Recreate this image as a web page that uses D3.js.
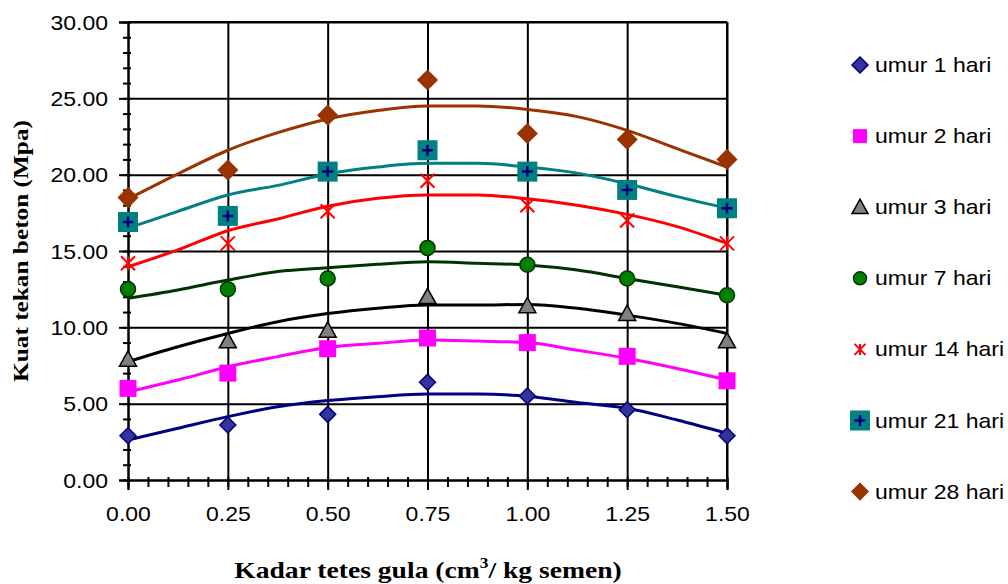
<!DOCTYPE html>
<html>
<head>
<meta charset="utf-8">
<script src="https://cdn.jsdelivr.net/npm/d3@7"></script>
<style>
  body { margin: 0; background: #fff; }
  svg { display: block; }
</style>
</head>
<body>
<script>
// chart size
var width = 1008;
var height = 584;

// data
var kadar = [0, 0.25, 0.5, 0.75, 1.0, 1.25, 1.5];
var umur1 = [2.9, 3.6, 4.3, 6.4, 5.5, 4.6, 2.9];
var umur2 = [6.0, 7.0, 8.6, 9.3, 9.0, 8.1, 6.5];
var umur3 = [7.9, 9.1, 9.8, 12.0, 11.4, 10.9, 9.1];
var umur7 = [12.5, 12.5, 13.2, 15.2, 14.1, 13.2, 12.1];
var umur14 = [14.2, 15.5, 17.6, 19.6, 18.0, 17.0, 15.5];
var umur21 = [16.9, 17.3, 20.2, 21.6, 20.2, 19.0, 17.8];
var umur28 = [18.5, 20.3, 23.9, 26.2, 22.7, 22.3, 21.0];

// trend lines, read at every 0.125
var trendX = [0, 0.125, 0.25, 0.375, 0.5, 0.625, 0.75, 0.875, 1.0, 1.125, 1.25, 1.375, 1.5];
var trend1 = [2.62, 3.39, 4.15, 4.8, 5.2, 5.46, 5.63, 5.63, 5.48, 5.07, 4.7, 3.93, 3.06];
var trend2 = [5.78, 6.55, 7.42, 8.08, 8.68, 8.95, 9.17, 9.1, 9.0, 8.5, 7.97, 7.3, 6.55];
var trend3 = [7.75, 8.73, 9.6, 10.37, 10.9, 11.25, 11.46, 11.46, 11.5, 11.25, 10.8, 10.26, 9.6];
var trend7 = [11.9, 12.45, 13.1, 13.65, 13.9, 14.13, 14.3, 14.2, 14.08, 13.75, 13.2, 12.66, 12.1];
var trend14 = [13.97, 15.07, 16.33, 17.1, 17.93, 18.45, 18.67, 18.67, 18.42, 18.0, 17.4, 16.6, 15.5];
var trend21 = [16.5, 17.6, 18.67, 19.3, 20.05, 20.5, 20.74, 20.74, 20.5, 20.1, 19.4, 18.56, 17.8];
var trend28 = [18.4, 20.05, 21.6, 22.75, 23.65, 24.2, 24.5, 24.5, 24.27, 23.8, 22.9, 21.7, 20.5];

var seriesNames = ['umur 1 hari', 'umur 2 hari', 'umur 3 hari', 'umur 7 hari', 'umur 14 hari', 'umur 21 hari', 'umur 28 hari'];
var yTicks = [0, 5, 10, 15, 20, 25, 30];
var xTicks = [0, 0.25, 0.5, 0.75, 1.0, 1.25, 1.5];

var series = [
  {name: seriesNames[0], values: umur1, trend: trend1, marker: 'diamond', fill: '#333399', stroke: '#000080', line: '#000080', r: 8},
  {name: seriesNames[1], values: umur2, trend: trend2, marker: 'square', fill: '#ff00ff', stroke: 'none', line: '#ff00ff', r: 8.5},
  {name: seriesNames[2], values: umur3, trend: trend3, marker: 'triangle', fill: '#808080', stroke: '#000', line: '#000', r: 8.5},
  {name: seriesNames[3], values: umur7, trend: trend7, marker: 'circle', fill: '#008000', stroke: '#003300', line: '#003300', r: 7.5},
  {name: seriesNames[4], values: umur14, trend: trend14, marker: 'star', fill: 'none', stroke: '#ff0000', line: '#ff0000', r: 7},
  {name: seriesNames[5], values: umur21, trend: trend21, marker: 'plussq', fill: '#008080', stroke: '#000080', line: '#008080', r: 10},
  {name: seriesNames[6], values: umur28, trend: trend28, marker: 'diamond', fill: '#993300', stroke: '#993300', line: '#993300', r: 9.5}
];

var margin = {left: 128, top: 22};
var plotW = 599;
var plotH = 458;
var stretch = 1.15; // the fonts in the picture are drawn a little wide

var svg = d3.select('body').append('svg')
  .attr('width', width)
  .attr('height', height)
  .style('background', '#fff');

var x = d3.scaleLinear().domain([0, 1.5]).range([0, plotW]);
var y = d3.scaleLinear().domain([0, 30]).range([plotH, 0]);

var g = svg.append('g').attr('transform', 'translate(' + margin.left + ',' + margin.top + ')');

// gridlines
g.append('g')
  .attr('class', 'grid')
  .call(d3.axisLeft(y).tickValues(yTicks).tickSize(-plotW).tickFormat(''))
  .call(function(s){ s.select('.domain').remove(); });
g.append('g')
  .attr('class', 'grid')
  .attr('transform', 'translate(0,' + plotH + ')')
  .call(d3.axisBottom(x).tickValues(xTicks).tickSize(plotH).tickFormat(''))
  .call(function(s){ s.selectAll('line').attr('y2', -plotH); s.select('.domain').remove(); });
g.selectAll('.grid line').attr('stroke', '#000').attr('stroke-width', 2);

// minor ticks, crossing the axes
g.append('g')
  .attr('class', 'minor')
  .attr('transform', 'translate(3,0)')
  .call(d3.axisLeft(y).tickValues(d3.range(0, 31, 1)).tickSize(8).tickFormat(''));
g.append('g')
  .attr('class', 'minor')
  .attr('transform', 'translate(0,' + (plotH - 3) + ')')
  .call(d3.axisBottom(x).tickValues(d3.range(0, 31, 1).map(function(d){ return d * 0.05; })).tickSize(10).tickFormat(''));
g.selectAll('.minor .domain').remove();
g.selectAll('.minor line').attr('stroke', '#000').attr('stroke-width', 2);

// main axes with labels
var yAxis = g.append('g')
  .call(d3.axisLeft(y).tickValues(yTicks).tickSize(9).tickPadding(11).tickFormat(d3.format('.2f')));
yAxis.selectAll('text')
  .attr('x', -20 / stretch)
  .attr('dy', '0.36em')
  .attr('transform', 'scale(' + stretch + ',1)');

var xAxis = g.append('g')
  .attr('transform', 'translate(0,' + plotH + ')')
  .call(d3.axisBottom(x).tickValues(xTicks).tickSize(10).tickFormat(d3.format('.2f')));
xAxis.selectAll('text')
  .attr('y', 41)
  .attr('dy', 0)
  .attr('transform', 'scale(' + stretch + ',1)');

[yAxis, xAxis].forEach(function(a){
  a.selectAll('line').attr('stroke', '#000').attr('stroke-width', 2);
  a.select('.domain').attr('stroke', '#000').attr('stroke-width', 2);
  a.selectAll('text')
    .attr('fill', '#000')
    .style('font-family', '"Liberation Sans", Arial, sans-serif')
    .style('font-size', '20px');
});

// top and right border of the plot
g.append('line').attr('x1', 0).attr('x2', plotW).attr('y1', 0).attr('y2', 0).attr('stroke', '#000').attr('stroke-width', 2);
g.append('line').attr('x1', plotW).attr('x2', plotW).attr('y1', 0).attr('y2', plotH).attr('stroke', '#000').attr('stroke-width', 2);

// marker shapes
var markerPath = function(type, r){
  if (type === 'diamond') {
    return 'M0,' + (-r) + 'L' + r + ',0L0,' + r + 'L' + (-r) + ',0Z';
  }
  if (type === 'square' || type === 'plussq') {
    return 'M' + (-r) + ',' + (-r) + 'H' + r + 'V' + r + 'H' + (-r) + 'Z';
  }
  if (type === 'triangle') {
    return 'M0,' + (-r) + 'L' + r + ',' + (r * 0.8) + 'L' + (-r) + ',' + (r * 0.8) + 'Z';
  }
  if (type === 'circle') {
    return d3.symbol(d3.symbolCircle, Math.PI * r * r)();
  }
  if (type === 'star') {
    return 'M' + (-r) + ',' + (-r) + 'L' + r + ',' + r + 'M' + r + ',' + (-r) + 'L' + (-r) + ',' + r + 'M0,' + (-r) + 'V' + r;
  }
  return '';
};

var drawMarker = function(sel, s, r){
  sel.append('path')
    .attr('d', markerPath(s.marker, r))
    .attr('fill', s.marker === 'star' ? 'none' : s.fill)
    .attr('stroke', s.marker === 'plussq' ? 'none' : s.stroke)
    .attr('stroke-width', s.marker === 'star' ? 2 : 1.5);
  if (s.marker === 'plussq') {
    var p = r * 0.55;
    sel.append('path')
      .attr('d', 'M' + (-p) + ',0H' + p + 'M0,' + (-p) + 'V' + p)
      .attr('stroke', s.stroke)
      .attr('stroke-width', 2.5);
  }
};

// trend lines
var line = d3.line()
  .x(function(d){ return x(d[0]); })
  .y(function(d){ return y(d[1]); })
  .curve(d3.curveMonotoneX);

g.selectAll('.trend')
  .data(series)
  .enter()
  .append('path')
  .attr('class', 'trend')
  .attr('fill', 'none')
  .attr('stroke', function(d){ return d.line; })
  .attr('stroke-width', 3)
  .attr('d', function(d){ return line(trendX.map(function(t, i){ return [t, d.trend[i]]; })); });

// data points
series.forEach(function(s){
  g.selectAll(null)
    .data(s.values)
    .enter()
    .append('g')
    .attr('transform', function(v, i){ return 'translate(' + x(kadar[i]) + ',' + y(v) + ')'; })
    .each(function(){ drawMarker(d3.select(this), s, s.r); });
});

// legend
var legend = svg.append('g');
series.forEach(function(s, i){
  var row = legend.append('g').attr('transform', 'translate(860,' + (65 + i * 71.1) + ')');
  var lr = s.marker === 'plussq' ? 10 : (s.marker === 'square' ? 7 : (s.marker === 'circle' ? 6.5 : (s.marker === 'star' ? 5.5 : 8)));
  drawMarker(row, s, lr);
  row.append('text')
    .attr('transform', 'translate(15,7) scale(' + stretch + ',1)')
    .style('font-family', '"Liberation Sans", Arial, sans-serif')
    .style('font-size', '20px')
    .attr('fill', '#000')
    .text(s.name);
});

// axis titles
svg.append('text')
  .attr('transform', 'translate(28,251) rotate(-90) scale(' + stretch + ',1)')
  .attr('text-anchor', 'middle')
  .style('font-family', '"Liberation Serif", "Times New Roman", serif')
  .style('font-weight', 'bold')
  .style('font-size', '22px')
  .text('Kuat tekan beton (Mpa)');

var xt = svg.append('text')
  .attr('transform', 'translate(428,578) scale(' + stretch + ',1)')
  .attr('text-anchor', 'middle')
  .style('font-family', '"Liberation Serif", "Times New Roman", serif')
  .style('font-weight', 'bold')
  .style('font-size', '24px');
xt.append('tspan').text('Kadar tetes gula (cm');
xt.append('tspan').attr('dy', -10).style('font-size', '15px').text('3');
xt.append('tspan').attr('dy', 10).text('/ kg semen)');
</script>
</body>
</html>
